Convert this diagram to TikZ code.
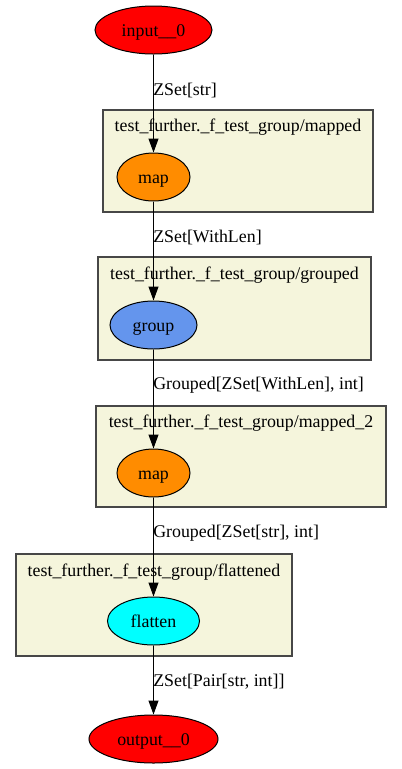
\documentclass[tikz,border=0pt]{standalone}
\usepackage{fontspec}
\setmainfont{Liberation Serif}
\usetikzlibrary{shapes.geometric}
\usetikzlibrary{arrows.meta}
\definecolor{beige}{HTML}{F5F5DC}
\definecolor{darkorange}{HTML}{FF8C00}
\definecolor{cornflower}{HTML}{6495ED}
\definecolor{aqua}{HTML}{00FFFF}
\definecolor{pure red}{HTML}{FF0000}
\begin{document}
\begin{tikzpicture}[x=0.75pt,y=-0.75pt,>={Triangle[length=10.5pt,width=7.5pt]},
font=\fontsize{13.4}{16}\selectfont,
opnode/.style={ellipse,draw=black,line width=0.75pt,inner sep=0pt,minimum height=36pt,text height=10pt,text depth=1pt},
cluster/.style={draw=black!72,line width=1pt,fill=beige},
clabel/.style={inner sep=0pt},
elabel/.style={anchor=west,inner sep=0pt}]
\useasboundingbox (0,0) rectangle (401,769);
% clusters
\draw[cluster] (103,110) rectangle (373,212);
\draw[cluster] (98,257) rectangle (371,360);
\draw[cluster] (96,406) rectangle (386,507);
\draw[cluster] (16,554) rectangle (292,656);
\node[clabel] (mappedlbl) at (238,127) {test\_further.\_f\_test\_group/mapped};
\node[clabel] (groupedlbl) at (234.5,275) {test\_further.\_f\_test\_group/grouped};
\node[clabel] (mappedtwolbl) at (241,423) {test\_further.\_f\_test\_group/mapped\_2};
\node[clabel] (flattenedlbl) at (154,572) {test\_further.\_f\_test\_group/flattened};
% nodes
\node[opnode, fill=pure red, minimum width=87.75pt] (input) at (153.5,30) {input\_\_0};
\node[opnode, fill=darkorange, minimum width=54.75pt] (map) at (153.5,177) {map};
\node[opnode, fill=cornflower, minimum width=65.25pt] (group) at (153.5,325) {group};
\node[opnode, fill=darkorange, minimum width=54.75pt] (maptwo) at (153.5,473) {map};
\node[opnode, fill=aqua, minimum width=69pt] (flatten) at (153.5,621) {flatten};
\node[opnode, fill=pure red, minimum width=96.75pt] (output) at (153.5,739) {output\_\_0};
% edges
\begin{scope}[->, line width=0.75pt]
 \draw (input)--(map);
 \draw (map)--(group);
 \draw (group)--(maptwo);
 \draw (maptwo)--(flatten);
 \draw (flatten)--(output);
\end{scope}
\node[elabel] (strlbl) at (153,90) {ZSet[str]};
\node[elabel] (withlenlbl) at (153,237) {ZSet[WithLen]};
\node[elabel] (groupedwlbl) at (153,385) {Grouped[ZSet[WithLen], int]};
\node[elabel] (groupedslbl) at (153,533) {Grouped[ZSet[str], int]};
\node[elabel] (pairlbl) at (153,682) {ZSet[Pair[str, int]]};
\end{tikzpicture}
\end{document}
